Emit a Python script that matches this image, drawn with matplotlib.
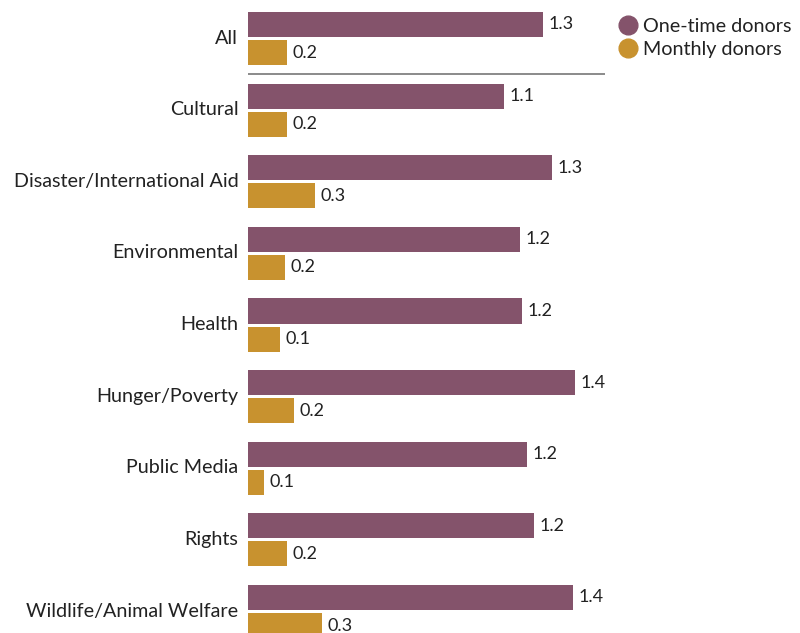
import numpy as np
import matplotlib
matplotlib.use("Agg")
import matplotlib.pyplot as plt
import matplotlib.transforms as mtrans
from matplotlib.lines import Line2D

plt.rcParams['font.family'] = ['Lato', 'DejaVu Sans']

## Data ####################################################

categories = ["All", "Cultural", "Disaster/International Aid", "Environmental",
              "Health", "Hunger/Poverty", "Public Media", "Rights",
              "Wildlife/Animal Welfare"]
one_time = [1.28, 1.11, 1.32, 1.18, 1.19, 1.42, 1.21, 1.24, 1.41]
monthly = [0.17, 0.17, 0.29, 0.16, 0.14, 0.20, 0.07, 0.17, 0.32]

PURPLE = "#84536B"
GOLD = "#C8922F"
TEXT = "#222222"

## Plot ####################################################

fig = plt.figure(figsize=(8, 6.33), dpi=100)
ax = fig.add_axes([248 / 800, 0, 357 / 800, 1])

y = np.arange(len(categories))
offset = 0.196
height = 0.35

ax.barh(y - offset, one_time, height=height, color=PURPLE)
ax.barh(y + offset, monthly, height=height, color=GOLD)

for yi, v in zip(y, one_time):
    ax.text(v + 0.024, yi - offset, f"{v:.1f}", va="center", ha="left",
            fontsize=13, color=TEXT)
for yi, v in zip(y, monthly):
    ax.text(v + 0.024, yi + offset, f"{v:.1f}", va="center", ha="left",
            fontsize=13, color=TEXT)

# separator under "All"
ax.axhline(0.49, color="#777777", lw=1.2)

ax.set_xlim(0, 1.55)
ax.set_ylim(len(categories) - 1 + 0.30, -0.538)
ax.set_yticks(y)
ax.set_yticklabels(categories, fontsize=14.2, color=TEXT)
ax.tick_params(axis="y", length=0, pad=7)
ax.set_xticks([])
for s in ax.spines.values():
    s.set_visible(False)

# nudge category labels up a little
shift = mtrans.ScaledTranslation(0, 2 / 100, fig.dpi_scale_trans)
for lbl in ax.get_yticklabels():
    lbl.set_transform(lbl.get_transform() + shift)

handles = [Line2D([], [], marker="o", ls="", color=PURPLE, markersize=13.5),
           Line2D([], [], marker="o", ls="", color=GOLD, markersize=13.5)]
fig.legend(handles, ["One-time donors", "Monthly donors"],
           loc="upper left", bbox_to_anchor=(598 / 800, 1.0),
           frameon=False, fontsize=14.2, handletextpad=0.2,
           labelspacing=0.3, handlelength=1.2, labelcolor=TEXT)

fig.savefig("out.png", dpi=100)
